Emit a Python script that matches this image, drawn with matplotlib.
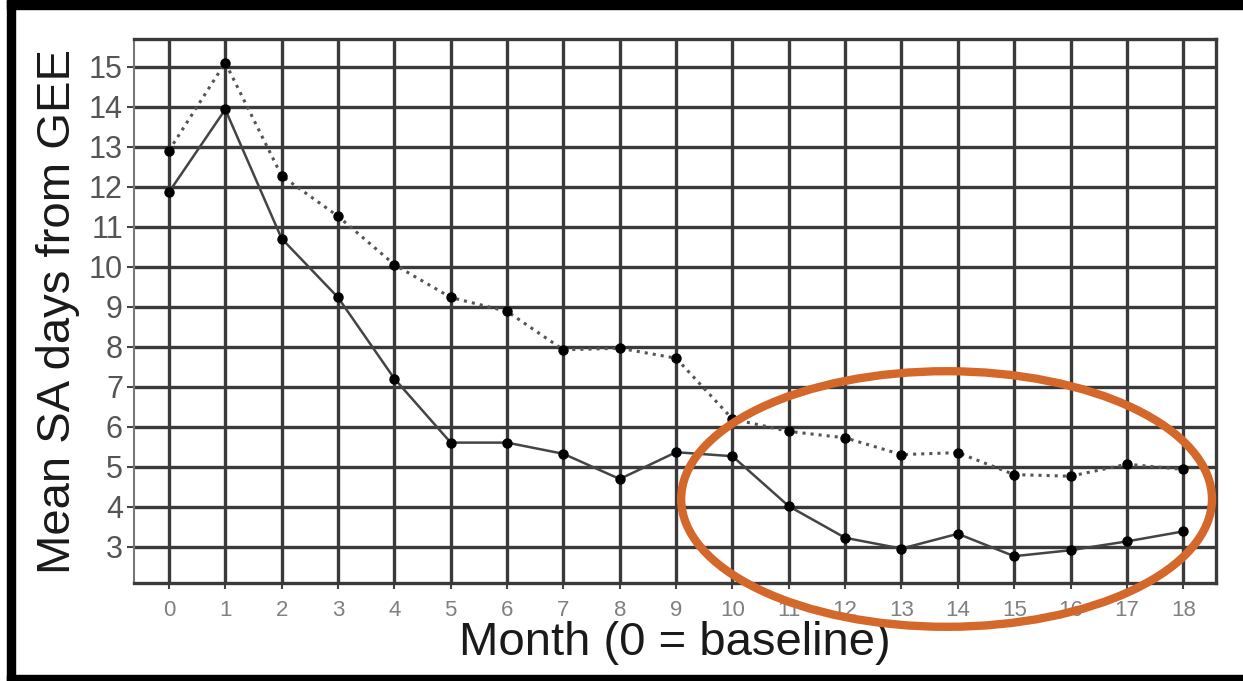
import matplotlib
matplotlib.use("Agg")
import matplotlib.pyplot as plt
from matplotlib.patches import Ellipse, Rectangle

plt.rcParams['font.family'] = ['Liberation Sans', 'DejaVu Sans']

# data
months = list(range(0, 19))
dotted_vals = [12.9, 15.1, 12.27, 11.26, 10.05, 9.23, 8.88, 7.92, 7.96, 7.71,
               6.19, 5.88, 5.72, 5.3, 5.35, 4.8, 4.76, 5.06, 4.93]
solid_vals = [11.86, 13.93, 10.7, 9.23, 7.2, 5.6, 5.6, 5.32, 4.69, 5.36,
              5.26, 4.01, 3.22, 2.95, 3.32, 2.76, 2.91, 3.13, 3.38]
y_ticks = list(range(3, 16))

# highlighted region (data coords)
ell_center = (13.8, 4.19)
ell_w, ell_h = 9.42, 6.39

fig = plt.figure(figsize=(12.43, 6.81), dpi=100)
ax = fig.add_axes([0.1078, 0.1439, 0.978 - 0.1078, 0.9427 - 0.1439])

# grid
ax.set_xticks(months)
ax.set_yticks(y_ticks)
ax.grid(True, color='#3a3a3a', linewidth=2.4)
ax.set_axisbelow(True)

ax.plot(months, dotted_vals, color='#555555', linestyle=':', linewidth=2.2,
        marker='o', markersize=6.5, markerfacecolor='black', markeredgecolor='black')
ax.plot(months, solid_vals, color='#444444', linestyle='-', linewidth=1.8,
        marker='o', markersize=6.5, markerfacecolor='black', markeredgecolor='black')

ax.set_xlim(-0.62, 18.575)
ax.set_ylim(2.09, 15.69)

for side in ['top', 'right', 'bottom']:
    ax.spines[side].set_color('#3a3a3a')
    ax.spines[side].set_linewidth(2.4)
ax.spines['left'].set_color('#777777')
ax.spines['left'].set_linewidth(1.5)
ax.spines['left'].set_linestyle((0, (4, 1)))

ax.tick_params(axis='x', length=4, width=1.5, color='#444444', pad=8,
               labelsize=16, labelcolor='#808080')
ax.tick_params(axis='y', length=5, width=1.5, color='#444444', pad=3,
               labelsize=22, labelcolor='#555555')
for lab in ax.get_xticklabels():
    lab.set_family(['Liberation Sans Narrow', 'Liberation Sans'])

ax.set_xlabel('Month (0 = baseline)', fontsize=34, color='#1a1a1a', labelpad=0)
ax.set_ylabel('Mean SA days from GEE', fontsize=34, color='#1a1a1a', labelpad=6)

# orange ellipse annotation
ax.add_patch(Ellipse(ell_center, ell_w, ell_h, fill=False, edgecolor='#d4672a',
                     linewidth=6, clip_on=False, zorder=5))

# black frame around the picture
fig.patches.append(Rectangle((7 / 1243, 1 - 9 / 681), 1, 9 / 681, transform=fig.transFigure,
                             color='black', zorder=10))
fig.patches.append(Rectangle((7 / 1243, 0), 8 / 1243, 1, transform=fig.transFigure,
                             color='black', zorder=10))
fig.patches.append(Rectangle((7 / 1243, 0), 1, 6 / 681, transform=fig.transFigure,
                             color='black', zorder=10))

fig.savefig('out.png', dpi=100)
